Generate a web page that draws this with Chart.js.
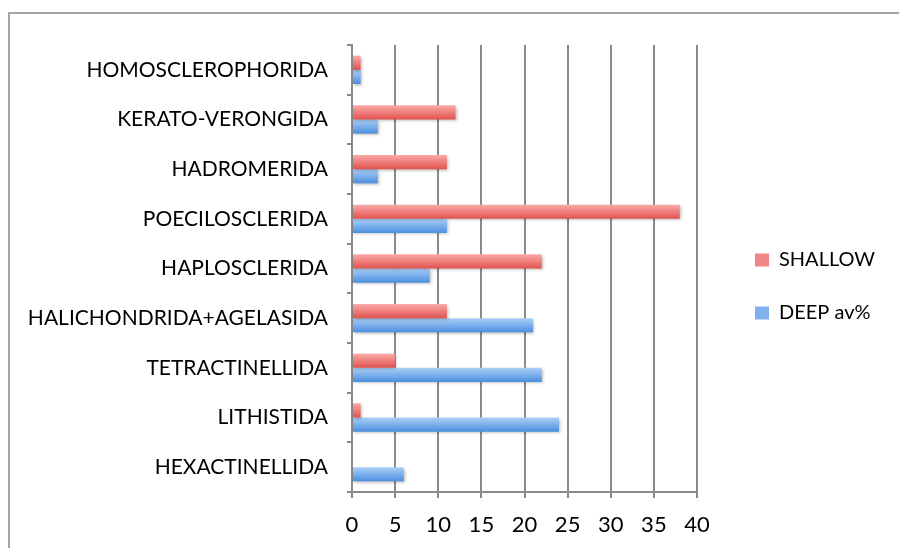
<!DOCTYPE html>
<html>
<head>
<meta charset="utf-8">
<script src="https://cdn.jsdelivr.net/npm/chart.js@4/dist/chart.umd.min.js"></script>
<style>
  html, body { margin: 0; padding: 0; background: #fff; overflow: hidden; }
  #frame { position: absolute; left: 8px; top: 12px; width: 960px; height: 600px;
           border: 2px solid #a4a4a4; box-sizing: border-box; }
  #chart { position: absolute; left: 0; top: 0; }
</style>
</head>
<body>
<div id="frame"></div>
<canvas id="chart" width="899" height="548"></canvas>
<script>
const categories = ['HOMOSCLEROPHORIDA', 'KERATO-VERONGIDA', 'HADROMERIDA', 'POECILOSCLERIDA',
  'HAPLOSCLERIDA', 'HALICHONDRIDA+AGELASIDA', 'TETRACTINELLIDA', 'LITHISTIDA', 'HEXACTINELLIDA'];
const shallow = [1, 12, 11, 38, 22, 11, 5, 1, 0];
const deep = [1, 3, 3, 11, 9, 21, 22, 24, 6];
const xTicks = [0, 5, 10, 15, 20, 25, 30, 35, 40];

const CAT_PCT = 0.57;
const GRID = '#8a8a8a';

// vertical gradient per bar, like the old Excel look
function barFill(light, dark) {
  return (c) => {
    const chart = c.chart, ys = chart.scales.y;
    if (!chart.chartArea || !ys || c.dataIndex === undefined) return dark;
    const center = ys.getPixelForValue(c.dataIndex);
    const half = (ys.bottom - ys.top) / categories.length * CAT_PCT / 2;
    const y0 = c.datasetIndex === 0 ? center - half : center;
    const g = chart.ctx.createLinearGradient(0, y0, 0, y0 + half);
    g.addColorStop(0, light);
    g.addColorStop(1, dark);
    return g;
  };
}

const legendFix = {
  id: 'legendFix',
  beforeLayout(chart) {
    const lg = chart.legend;
    if (lg && !lg._fixed) {
      const fit = lg.fit;
      lg.fit = function () { fit.call(this); this.width = 202; };
      lg._fixed = true;
    }
  },
  afterLayout(chart) {
    const lg = chart.legend;
    lg.left += 25; lg.right += 25;
    lg.top -= 10; lg.bottom -= 10;
  },
  // soft shadow under the bars
  beforeDatasetsDraw(chart) {
    const ctx = chart.ctx;
    ctx.save();
    ctx.shadowColor = 'rgba(0,0,0,0.28)';
    ctx.shadowBlur = 3;
    ctx.shadowOffsetX = 1;
    ctx.shadowOffsetY = 1.5;
  },
  afterDatasetsDraw(chart) {
    chart.ctx.restore();
  }
};

new Chart(document.getElementById('chart'), {
  type: 'bar',
  data: {
    labels: categories,
    datasets: [{
      label: 'SHALLOW',
      data: shallow,
      backgroundColor: barFill('#fbaaa8', '#e0524f'),
      categoryPercentage: CAT_PCT,
      barPercentage: 1.0
    }, {
      label: 'DEEP av%',
      data: deep,
      backgroundColor: barFill('#acd0f8', '#4b8fdf'),
      categoryPercentage: CAT_PCT,
      barPercentage: 1.0
    }]
  },
  plugins: [legendFix],
  options: {
    indexAxis: 'y',
    responsive: false,
    animation: false,
    layout: { padding: { top: 45, left: 0, right: 0, bottom: 0 } },
    scales: {
      x: {
        min: 0, max: 40,
        afterBuildTicks: (s) => { s.ticks = xTicks.map(v => ({ value: v })); },
        afterFit: (s) => { s.height = 56; },
        grid: { color: GRID, lineWidth: 2, tickLength: 6 },
        border: { color: GRID, width: 2 },
        ticks: { color: '#000', padding: 14, font: { family: 'Lato', size: 22 } }
      },
      y: {
        afterFit: (s) => { s.width = 352; },
        grid: { drawOnChartArea: false, color: GRID, lineWidth: 2, tickLength: 5 },
        border: { color: GRID, width: 2 },
        ticks: { color: '#000', padding: 19, font: { family: 'Lato', size: 21 } }
      }
    },
    plugins: {
      tooltip: { enabled: false },
      legend: {
        position: 'right',
        labels: {
          boxWidth: 14, boxHeight: 13, padding: 33,
          color: '#000', font: { family: 'Lato', size: 20 },
          generateLabels: (chart) => {
            const solid = ['#ef8584', '#7fb1ee'];
            return chart.data.datasets.map((ds, i) => ({
              text: ds.label, fillStyle: solid[i], strokeStyle: solid[i],
              lineWidth: 0, datasetIndex: i, hidden: false
            }));
          }
        }
      }
    }
  }
});
</script>
</body>
</html>
